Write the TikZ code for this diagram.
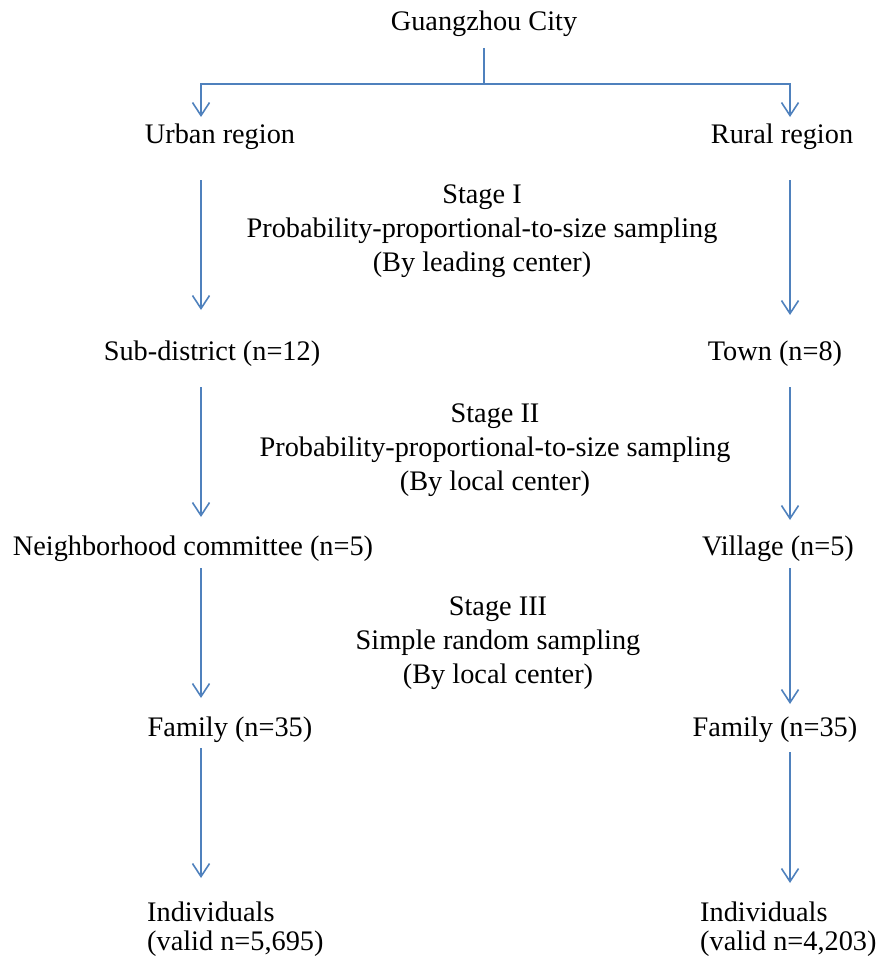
\documentclass[tikz,border=0pt]{standalone}
\usepackage{fontspec}
\setmainfont{Liberation Serif}
\usetikzlibrary{arrows.meta,calc}
\definecolor{lineblue}{HTML}{4F81BD}
\begin{document}
\begin{tikzpicture}[x=1pt,y=-1pt,
  lbl/.style={font=\fontsize{28.3}{34}\selectfont, inner sep=0pt, anchor=base},
  indiv/.style={font=\fontsize{28.3}{29}\selectfont, inner sep=0pt, anchor=base west, align=left},
  conn/.style={draw=lineblue, line width=1.6pt},
  arr/.style={conn, -{Straight Barb[length=13pt,width=17pt,line width=1.6pt]}}]
\useasboundingbox (0,0) rectangle (879,958);
% nodes (multi-line nodes: base = baseline of last line)
\node[lbl] (gz) at (484,31) {Guangzhou City};
\node[lbl] (urban) at (220,143) {Urban region};
\node[lbl] (rural) at (782,143) {Rural region};
\node[lbl, align=center] (st1) at (482,271) {Stage I\\Probability-proportional-to-size sampling\\(By leading center)};
\node[lbl] (sub) at (212,360) {Sub-district (n=12)};
\node[lbl] (town) at (775,360) {Town (n=8)};
\node[lbl, align=center] (st2) at (495,490) {Stage II\\Probability-proportional-to-size sampling\\(By local center)};
\node[lbl] (neigh) at (193,555) {Neighborhood committee (n=5)};
\node[lbl] (vill) at (778,555) {Village (n=5)};
\node[lbl, align=center] (st3) at (498,683) {Stage III\\Simple random sampling\\(By local center)};
\node[lbl] (famL) at (230,736) {Family (n=35)};
\node[lbl] (famR) at (775,736) {Family (n=35)};
\node[indiv] (indL) at (147,950) {Individuals\\(valid n=5,695)};
\node[indiv] (indR) at (700,950) {Individuals\\(valid n=4,203)};
% axes and junction
\coordinate (axL) at (201,0);
\coordinate (axR) at (790,0);
\coordinate (jn) at (484,84);
% connectors
\draw[conn] ($(gz.base)+(0,17)$) -- (jn);
\draw[arr, shorten >=26pt] (jn) -| (axL |- urban.base);
\draw[arr, shorten >=26pt] (jn) -| (axR |- rural.base);
\draw[arr, shorten <=37pt, shorten >=50pt] (axL |- urban.base) -- (axL |- sub.base);
\draw[arr, shorten <=37pt, shorten >=45pt] (axR |- rural.base) -- (axR |- town.base);
\draw[arr, shorten <=27pt, shorten >=38pt] (axL |- sub.base) -- (axL |- neigh.base);
\draw[arr, shorten <=27pt, shorten >=35pt] (axR |- town.base) -- (axR |- vill.base);
\draw[arr, shorten <=13pt, shorten >=38pt] (axL |- neigh.base) -- (axL |- famL.base);
\draw[arr, shorten <=13pt, shorten >=32pt] (axR |- vill.base) -- (axR |- famR.base);
\draw[arr, shorten <=12pt, shorten >=72pt] (axL |- famL.base) -- (axL |- indL.base);
\draw[arr, shorten <=16pt, shorten >=67pt] (axR |- famR.base) -- (axR |- indR.base);
\end{tikzpicture}
\end{document}
